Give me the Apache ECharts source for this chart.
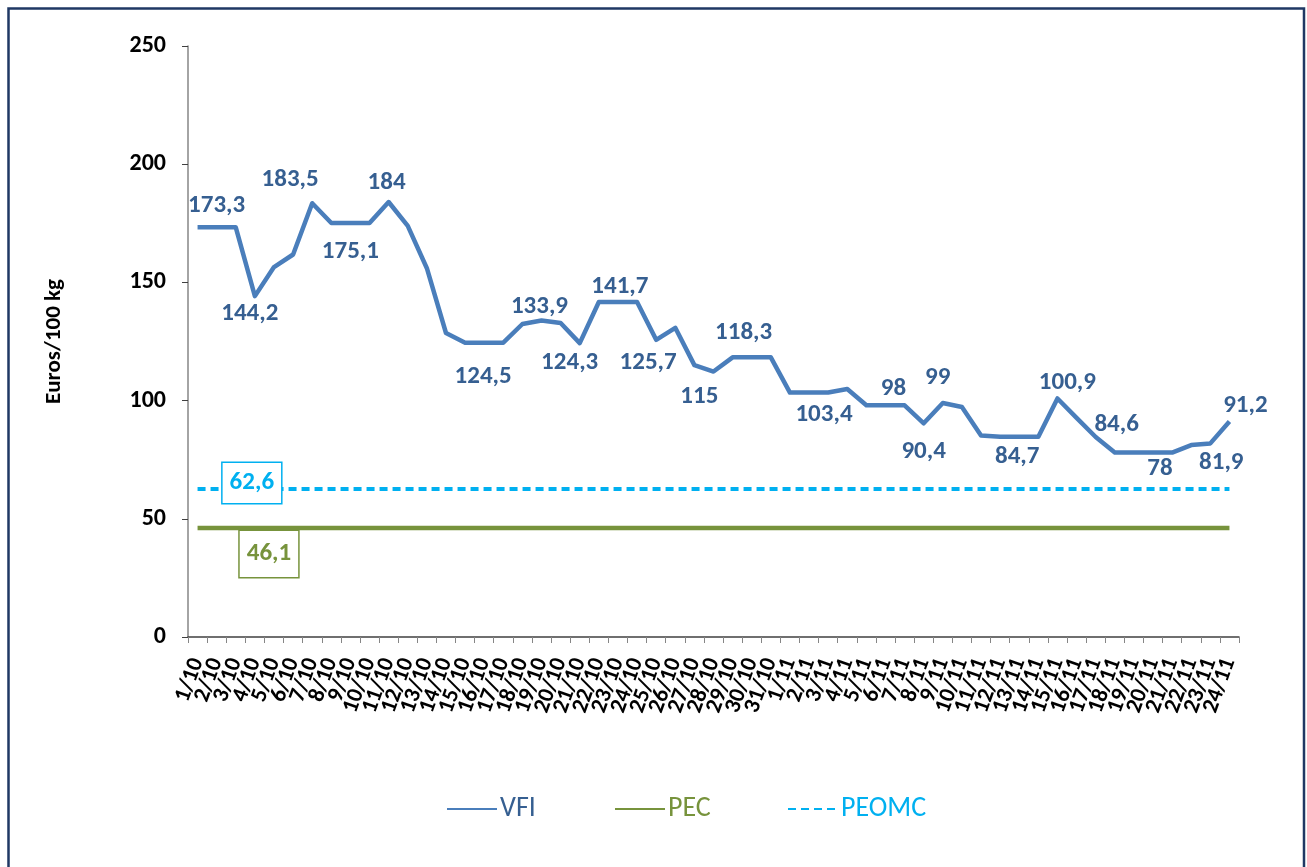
<!DOCTYPE html>
<html>
<head>
<meta charset="utf-8">
<script src="https://cdn.jsdelivr.net/npm/echarts@6/dist/echarts.min.js"></script>
<style>
html,body{margin:0;padding:0;background:#fff;}
#chart{width:1307px;height:867px;}
</style>
</head>
<body>
<div id="chart"></div>
<script>
const categories = ['1/10','2/10','3/10','4/10','5/10','6/10','7/10','8/10','9/10','10/10',
  '11/10','12/10','13/10','14/10','15/10','16/10','17/10','18/10','19/10','20/10',
  '21/10','22/10','23/10','24/10','25/10','26/10','27/10','28/10','29/10','30/10','31/10',
  '1/11','2/11','3/11','4/11','5/11','6/11','7/11','8/11','9/11','10/11',
  '11/11','12/11','13/11','14/11','15/11','16/11','17/11','18/11','19/11','20/11',
  '21/11','22/11','23/11','24/11'];

const vfiValues = [173.3,173.3,173.3,144.2,156.5,161.8,183.5,175.1,175.1,175.1,
  184,173.9,156,128.6,124.5,124.5,124.5,132.4,133.9,132.8,
  124.3,141.7,141.7,141.7,125.7,130.8,115,112.3,118.3,118.3,118.3,
  103.4,103.4,103.4,104.9,98,98,98,90.4,99,97.3,
  85.2,84.7,84.7,84.7,100.9,92.7,84.6,78,78,78,
  78,81.2,81.9,91.2];

const pecValues = [46.1,46.1,46.1,46.1,46.1,46.1,46.1,46.1,46.1,46.1,
  46.1,46.1,46.1,46.1,46.1,46.1,46.1,46.1,46.1,46.1,
  46.1,46.1,46.1,46.1,46.1,46.1,46.1,46.1,46.1,46.1,46.1,
  46.1,46.1,46.1,46.1,46.1,46.1,46.1,46.1,46.1,46.1,
  46.1,46.1,46.1,46.1,46.1,46.1,46.1,46.1,46.1,46.1,
  46.1,46.1,46.1,46.1];

const peomcValues = [62.6,62.6,62.6,62.6,62.6,62.6,62.6,62.6,62.6,62.6,
  62.6,62.6,62.6,62.6,62.6,62.6,62.6,62.6,62.6,62.6,
  62.6,62.6,62.6,62.6,62.6,62.6,62.6,62.6,62.6,62.6,62.6,
  62.6,62.6,62.6,62.6,62.6,62.6,62.6,62.6,62.6,62.6,
  62.6,62.6,62.6,62.6,62.6,62.6,62.6,62.6,62.6,62.6,
  62.6,62.6,62.6,62.6];

const yTicks = [0, 50, 100, 150, 200, 250];

// label centre relative to its point, for the VFI points that carry a value label: index -> [dx, dy]
const vfiLabelPlacement = {
  1:[0,-22], 3:[-5,18], 6:[-22,-23], 8:[0,29], 10:[-2,-19], 15:[-1,34],
  18:[-2,-14], 20:[-10,20], 22:[2,-15], 24:[-8,23], 26:[5,32], 29:[-8,-25],
  32:[15,22], 36:[8,-17], 38:[0,29], 39:[-5,-25], 43:[-2,20], 45:[10,-16],
  47:[21,-12], 50:[7,16], 53:[11,19], 54:[16,-16]
};

const FONT = 'Carlito, Lato, "Open Sans", sans-serif';
const VFI_LINE = '#4A7EBB';
const VFI_TEXT = '#365F91';
const PEC_COL = '#77933C';
const PEOMC_COL = '#00B0F0';

const fmt = v => String(v).replace('.', ',');

const vfiData = vfiValues.map((v, i) => {
  const p = vfiLabelPlacement[i];
  if (!p) return v;
  return { value: v, label: { show: true, position: [p[0], p[1]], align: 'center', verticalAlign: 'middle' } };
});

const pecData = pecValues.map((v, i) => i === 4 ? {
  value: v,
  label: { show: true, position: [-5, 26], align: 'center', verticalAlign: 'middle', color: PEC_COL,
    fontFamily: FONT, fontWeight: 'bold', fontSize: 25, lineHeight: 25,
    backgroundColor: '#fff', borderColor: PEC_COL, borderWidth: 1.5,
    padding: [11, 7, 10, 7], formatter: p => fmt(p.value) }
} : v);

const peomcData = peomcValues.map((v, i) => i === 3 ? {
  value: v,
  label: { show: true, position: [-3, -6], align: 'center', verticalAlign: 'middle', color: PEOMC_COL,
    fontFamily: FONT, fontWeight: 'bold', fontSize: 25, lineHeight: 25,
    backgroundColor: '#fff', borderColor: PEOMC_COL, borderWidth: 1.5,
    padding: [8, 7, 7, 7], formatter: p => fmt(p.value) }
} : v);

const legendBase = {
  top: 790, itemWidth: 50, itemHeight: 14,
  itemStyle: { opacity: 0 },
  textStyle: { fontFamily: FONT, fontSize: 28, padding: [0, 0, 0, -2] }
};

const chart = echarts.init(document.getElementById('chart'), null, { renderer: 'canvas' });

chart.setOption({
  backgroundColor: '#fff',
  animation: false,
  graphic: [{
    type: 'rect', silent: true, z: 100,
    shape: { x: 8.5, y: 8.5, width: 1295.5, height: 880 },
    style: { fill: 'none', stroke: '#1F3864', lineWidth: 2.5 }
  }],
  grid: { left: 188, right: 68, top: 46, bottom: 230, containLabel: false },
  legend: [
    Object.assign({}, legendBase, { left: 441, data: [{ name: 'VFI', textStyle: { color: VFI_TEXT } }] }),
    Object.assign({}, legendBase, { left: 609, data: [{ name: 'PEC', textStyle: { color: PEC_COL } }] }),
    Object.assign({}, legendBase, { left: 782, data: [{ name: 'PEOMC', textStyle: { color: PEOMC_COL } }] })
  ],
  xAxis: {
    type: 'category',
    data: categories,
    boundaryGap: true,
    axisLine: { lineStyle: { color: '#404040', width: 1.5 } },
    axisTick: { show: true, length: 6, alignWithLabel: false, interval: 0, lineStyle: { color: '#868686' } },
    axisLabel: { interval: 0, rotate: 70, margin: 22, color: '#000', fontFamily: FONT,
      fontWeight: 'bold', fontSize: 23 },
    splitLine: { show: false }
  },
  yAxis: {
    type: 'value',
    min: 0, max: 250, interval: 50,
    name: 'Euros/100 kg',
    nameLocation: 'middle',
    nameGap: 122,
    nameTextStyle: { fontFamily: FONT, fontWeight: 'bold', fontSize: 23, color: '#000' },
    axisLine: { show: true, lineStyle: { color: '#868686', width: 1.5 } },
    axisTick: { show: true, length: 6, inside: false, lineStyle: { color: '#404040' } },
    axisLabel: { margin: 22, color: '#000', fontFamily: FONT, fontWeight: 'bold', fontSize: 24,
      customValues: yTicks },
    splitLine: { show: false }
  },
  series: [
    {
      name: 'VFI', type: 'line', data: vfiData,
      symbol: 'circle', symbolSize: 0.1, showSymbol: true, z: 3,
      lineStyle: { color: VFI_LINE, width: 4.5, join: 'round' },
      itemStyle: { color: VFI_LINE },
      label: { show: false, color: VFI_TEXT, fontFamily: FONT, fontWeight: 'bold', fontSize: 25,
        formatter: p => fmt(p.value) }
    },
    {
      name: 'PEC', type: 'line', data: pecData,
      symbol: 'circle', symbolSize: 0.1, showSymbol: true, z: 2,
      lineStyle: { color: PEC_COL, width: 4.5 },
      itemStyle: { color: PEC_COL },
      label: { show: false }
    },
    {
      name: 'PEOMC', type: 'line', data: peomcData,
      symbol: 'circle', symbolSize: 0.1, showSymbol: true, z: 4,
      lineStyle: { color: PEOMC_COL, width: 4, type: [8, 5], cap: 'butt' },
      itemStyle: { color: PEOMC_COL },
      label: { show: false }
    }
  ]
});
</script>
</body>
</html>
